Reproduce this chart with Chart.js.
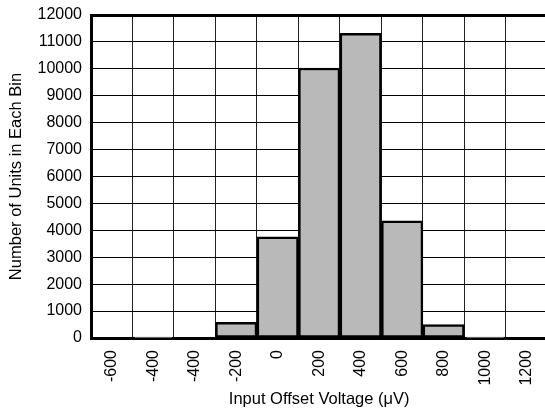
<!DOCTYPE html>
<html>
<head>
<meta charset="utf-8">
<script src="https://cdn.jsdelivr.net/npm/chart.js@4"></script>
<style>
  html, body { margin: 0; padding: 0; background: #fff; overflow: hidden; }
  #wrap { position: absolute; left: 0; top: 0; width: 558px; height: 416px; }
</style>
</head>
<body>
<div id="wrap"><canvas id="histChart"></canvas></div>
<script>
// Bin labels as printed on the original (the repeated -400 is in the source)
const binLabels = ['-600', '-400', '-400', '-200', '0', '200', '400', '600', '800', '1000', '1200'];
// Units per bin
const unitCounts = [0, 30, 0, 580, 3760, 10030, 11320, 4350, 500, 30, 0];
const yMax = 12000;
const yStep = 1000;

const chartCanvas = document.getElementById('histChart');
const fontFamily = 'Liberation Sans, Arial, sans-serif';

new Chart(chartCanvas, {
    type: 'bar',
    data: {
        labels: binLabels,
        datasets: [{
            data: unitCounts,
            backgroundColor: '#b9b9b9',
            borderColor: '#000',
            borderWidth: 2.5,
            borderSkipped: false,
            barPercentage: 1,
            categoryPercentage: 1
        }]
    },
    options: {
        responsive: true,
        maintainAspectRatio: false,
        animation: false,
        events: [],
        layout: { padding: { top: 15, right: 4, left: 0, bottom: 0 } },
        plugins: {
            legend: { display: false },
            tooltip: { enabled: false }
        },
        scales: {
            x: {
                afterFit: scale => { scale.height = 78; },
                grid: {
                    color: '#222',
                    lineWidth: 1,
                    drawTicks: false,
                    offset: true
                },
                border: { color: '#000', width: 3 },
                ticks: {
                    color: '#000',
                    font: { family: fontFamily, size: 16 },
                    minRotation: 90,
                    maxRotation: 90,
                    padding: 12
                },
                title: {
                    display: true,
                    text: 'Input Offset Voltage (\u03BCV)',
                    color: '#000',
                    font: { family: fontFamily, size: 16.5 },
                    padding: { top: 4, bottom: 7 }
                }
            },
            y: {
                min: 0,
                max: yMax,
                // fixed width, and no extra room above the top label
                afterFit: scale => {
                    scale.width = 91;
                    scale.paddingTop = 0;
                    scale.paddingBottom = 0;
                },
                grid: {
                    color: '#000',
                    lineWidth: ctx => (ctx.tick && ctx.tick.value === yMax ? 3 : 1),
                    drawTicks: false
                },
                border: { color: '#000', width: 3 },
                ticks: {
                    stepSize: yStep,
                    color: '#000',
                    font: { family: fontFamily, size: 16 },
                    padding: 9,
                    callback: value => String(value)
                },
                title: {
                    display: true,
                    text: 'Number of Units in Each Bin',
                    color: '#000',
                    font: { family: fontFamily, size: 16.5 },
                    padding: { top: 7, bottom: 4 }
                }
            }
        }
    }
});
</script>
</body>
</html>
